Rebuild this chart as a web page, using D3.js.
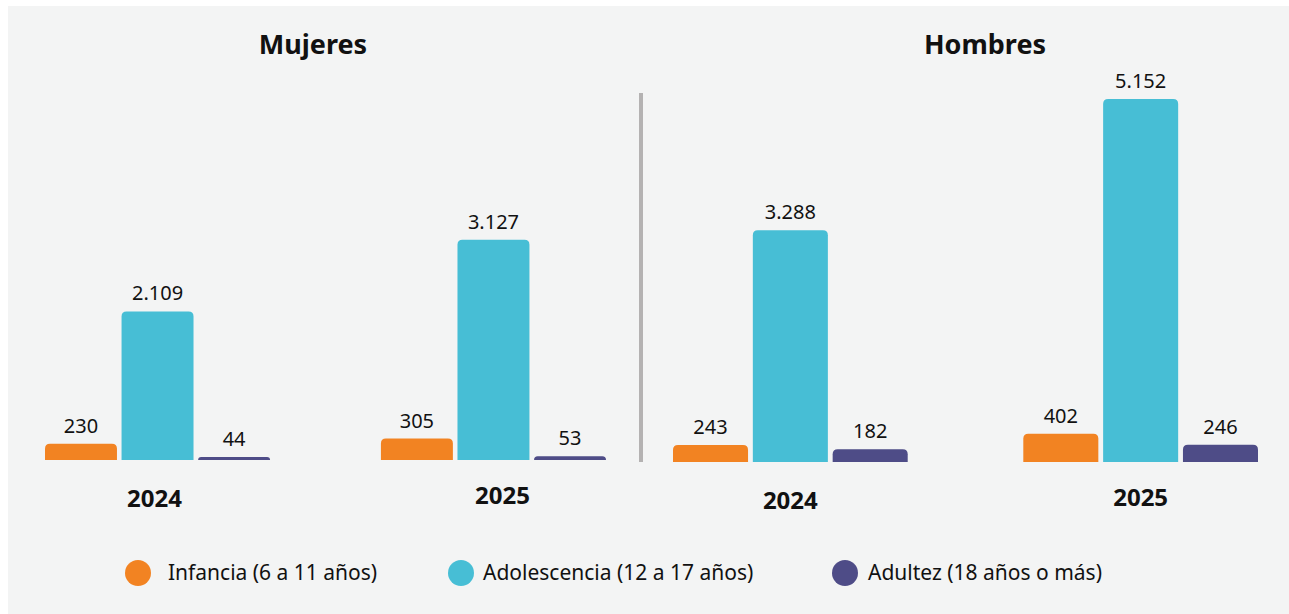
<!DOCTYPE html>
<html lang="es">
<head>
  <meta charset="UTF-8" />
  <title>Mujeres / Hombres por grupo de edad</title>
  <script src="https://cdnjs.cloudflare.com/ajax/libs/d3/7.8.5/d3.min.js"></script>
  <style>
    body {
      margin: 0;
      background: #ffffff;
      font-family: "Noto Sans", sans-serif;
    }

    svg {
      display: block;
    }
  </style>
</head>
<body>
  <svg id="chart" width="1289" height="614"></svg>

  <script>
    // data: order is Mujeres 2024, Mujeres 2025, Hombres 2024, Hombres 2025
    const groups = ["Mujeres", "Hombres"];
    const years = ["2024", "2025"];
    const series = ["Infancia (6 a 11 años)", "Adolescencia (12 a 17 años)", "Adultez (18 años o más)"];
    const infancia = [230, 305, 243, 402];
    const adolescencia = [2109, 3127, 3288, 5152];
    const adultez = [44, 53, 182, 246];

    const colors = ["#f28322", "#47bed5", "#4e4c87"];

    // layout of the two panels
    const panels = [
      { x0: 45, x1: 606, base: 460, titleX: 313, yearY: [507, 504], yearDx: [-3, 9] },
      { x0: 673, x1: 1258, base: 462, titleX: 985, yearY: [509, 506], yearDx: [0, 0] }
    ];
    const legendX = [138, 461, 845];
    const legendTextX = [168, 483, 868];

    const es = d3.formatLocale({ decimal: ",", thousands: ".", grouping: [3], currency: ["", ""] });
    const fmt = es.format(",d");

    const svg = d3.select("#chart");

    svg.append("rect")
      .attr("x", 8).attr("y", 6)
      .attr("width", 1281).attr("height", 608)
      .attr("fill", "#f3f4f4");

    // shared vertical scale (bar height in px)
    const h = d3.scaleLinear().domain([0, 5152]).range([0, 363]);

    const valuesFor = i => [infancia[i], adolescencia[i], adultez[i]];

    function topRounded(x, y, w, ht, r) {
      r = Math.min(r, ht, w / 2);
      return `M${x},${y + ht}V${y + r}Q${x},${y} ${x + r},${y}H${x + w - r}Q${x + w},${y} ${x + w},${y + r}V${y + ht}Z`;
    }

    groups.forEach((g, gi) => {
      const p = panels[gi];
      const x = d3.scaleBand().domain(years).range([p.x0, p.x1]).paddingInner(0.33);
      const xs = d3.scaleBand().domain(series).range([0, x.bandwidth()]).paddingInner(0.06);

      svg.append("text")
        .attr("x", p.titleX).attr("y", 54)
        .attr("text-anchor", "middle")
        .attr("font-size", 27).attr("font-weight", 700)
        .attr("fill", "#111")
        .text(g);

      years.forEach((yr, yi) => {
        const vals = valuesFor(gi * 2 + yi);
        const gx = x(yr);
        const grp = svg.append("g").attr("transform", `translate(${gx},0)`);

        grp.selectAll("path")
          .data(vals)
          .enter().append("path")
          .attr("fill", (d, i) => colors[i])
          .attr("d", (d, i) => topRounded(xs(series[i]), p.base - h(d), xs.bandwidth(), h(d), 5));

        grp.selectAll("text")
          .data(vals)
          .enter().append("text")
          .attr("x", (d, i) => xs(series[i]) + xs.bandwidth() / 2)
          .attr("y", d => p.base - h(d) - 11)
          .attr("text-anchor", "middle")
          .attr("font-size", 20)
          .attr("fill", "#111")
          .text(d => fmt(d));

        svg.append("text")
          .attr("x", gx + x.bandwidth() / 2 + p.yearDx[yi])
          .attr("y", p.yearY[yi])
          .attr("text-anchor", "middle")
          .attr("font-size", 24).attr("font-weight", 700)
          .attr("fill", "#111")
          .text(yr);
      });
    });

    // divider between panels
    svg.append("rect")
      .attr("x", 639).attr("y", 93)
      .attr("width", 4).attr("height", 369)
      .attr("fill", "#b4b2b2");

    // legend
    const legend = svg.selectAll(".legend")
      .data(series)
      .enter().append("g")
      .attr("class", "legend");

    legend.append("circle")
      .attr("cx", (d, i) => legendX[i]).attr("cy", 573)
      .attr("r", 13)
      .attr("fill", (d, i) => colors[i]);

    legend.append("text")
      .attr("x", (d, i) => legendTextX[i]).attr("y", 580)
      .attr("font-size", 21)
      .attr("fill", "#111")
      .text(d => d);
  </script>
</body>
</html>
